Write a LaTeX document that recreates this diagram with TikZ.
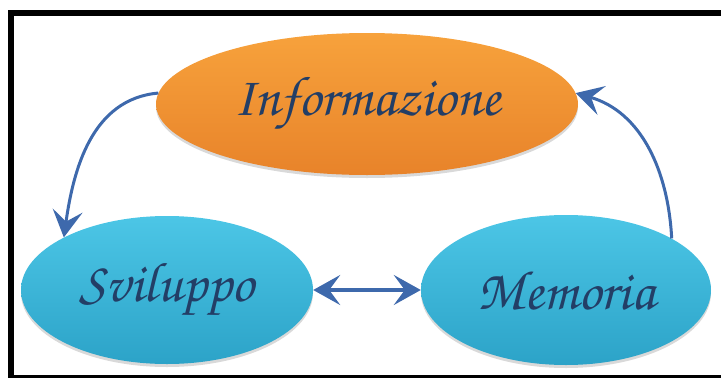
\documentclass[tikz,border=0pt]{standalone}
\usepackage[T1,TU]{fontenc}
\usetikzlibrary{shapes.geometric,arrows.meta,shadows}
\definecolor{arancio}{HTML}{F7A23C}
\definecolor{arancioscuro}{HTML}{E8832A}
\definecolor{celeste}{HTML}{4CC6E6}
\definecolor{celestescuro}{HTML}{2CA3C8}
\definecolor{freccia}{HTML}{3E69AC}
\definecolor{inchiostro}{HTML}{233E66}
\begin{document}
\begin{tikzpicture}[x=1pt,y=-1pt,>={Stealth[length=27pt,width=30pt,inset=11pt]},
		bolla/.style={ellipse,inner sep=0pt,drop shadow={opacity=0.3,shadow xshift=0pt,shadow yshift=-3pt}},
		scritta/.style={font=\fontencoding{T1}\fontfamily{pzc}\fontsize{56}{60}\selectfont,text=inchiostro},
		freccia/.style={draw=freccia,line width=3pt}]
	\useasboundingbox (0,0) rectangle (721,378);
	% cornice
	\fill (8,10) rectangle (14,378);
	\fill (8,10) rectangle (721,16);
	\fill (8,375) rectangle (721,378);
	% nodi
	\node[bolla,top color=arancio,bottom color=arancioscuro,minimum width=422pt,minimum height=142pt,scritta] (info) at (367,104) {Informazione};
	\node[bolla,top color=celeste,bottom color=celestescuro,minimum width=292pt,minimum height=148pt,scritta] (svil) at (167,290) {Sviluppo};
	\node[bolla,top color=celeste,bottom color=celestescuro,minimum width=290pt,minimum height=150pt,scritta] (mem) at (566,290) {Memoria};
	% frecce
	\draw[freccia,->] (info.177) to[out=185,in=82] (svil.153);
	\draw[freccia,->] (mem.26) to[out=93,in=-16] (info.3);
	\draw[freccia,line width=3.5pt,<->] (svil.east) -- (mem.west);
\end{tikzpicture}
\end{document}
